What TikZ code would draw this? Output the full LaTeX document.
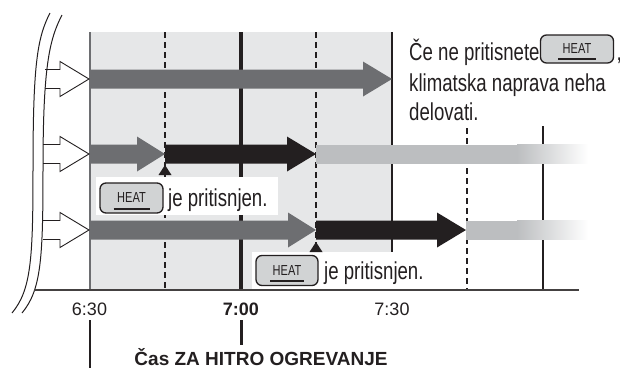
\documentclass[tikz,border=0pt]{standalone}
\usepackage{fontspec}
\setmainfont{Liberation Sans}
\newfontfamily\narrowfont[FakeStretch=0.76]{Liberation Sans}
\definecolor{regiongray}{HTML}{E6E7E8}
\definecolor{darkbar}{HTML}{6D6E71}
\definecolor{blackbar}{HTML}{231F20}
\definecolor{lightbar}{HTML}{BCBEC0}
\definecolor{btnfill}{HTML}{D1D3D4}
\newcommand\blockarr[5]{\fill[#1] (#2,{#5-9.5}) -- (#3,{#5-9.5}) -- (#3,{#5-17.5}) -- (#4,#5) -- (#3,{#5+17.5}) -- (#3,{#5+9.5}) -- (#2,{#5+9.5}) -- cycle;}
\newcommand\openarr[2]{\draw[openarrow] (#1,{#2-9.5}) -- (60,{#2-9.5}) -- (60,{#2-17.5}) -- (89,#2) -- (60,{#2+17.5}) -- (60,{#2+9.5}) -- (#1,{#2+9.5});}
\tikzset{
  dashline/.style={line width=1.1pt, dash pattern=on 6pt off 4pt, draw=blackbar},
  solidline/.style={line width=1.1pt, draw=blackbar},
  heatbtn/.style={draw=blackbar, line width=1.3pt, fill=btnfill, rounded corners=6pt,
    minimum height=30pt, inner sep=0pt, text depth=0pt,
    font=\narrowfont\fontsize{14.5}{15}\selectfont, text=blackbar},
  btnline/.style={line width=2pt, draw=blackbar},
  bodytext/.style={font=\narrowfont\fontsize{24.5}{30}\selectfont, text=blackbar, inner sep=0pt, anchor=base west},
  timelabel/.style={font=\fontsize{18}{20}\selectfont, text=blackbar, inner sep=0pt, anchor=base},
  openarrow/.style={draw=blackbar, line width=0.9pt, fill=white, line join=miter},
  breakline/.style={draw=blackbar, line width=1pt},
}
\begin{document}
\begin{tikzpicture}[x=1pt,y=-1pt]
\useasboundingbox (0,0) rectangle (624,368);
% shaded period
\fill[regiongray] (90,32) rectangle (392,290);
\draw[line width=1.2pt, draw=darkbar] (90,32) -- (90,290);
\draw[solidline] (392,32) -- (392,290);
\draw[dashline] (165,32) -- (165,290);
\draw[dashline] (316,32) -- (316,290);
\draw[line width=3.5pt, draw=blackbar] (241,32) -- (241,290);
\draw[dashline] (467,128) -- (467,290);
\draw[solidline] (543,126) -- (543,290);
% white label boxes
\fill[white] (96,177) rectangle (278,215);
\fill[white] (252,252) rectangle (430,289);
% row 1
\blockarr{darkbar}{90}{363}{392}{79}
% row 2
\blockarr{darkbar}{90}{137}{165}{154}
\blockarr{blackbar}{165}{287}{316}{154}
\fill[lightbar] (316,144.5) rectangle (517.5,163.5);
\shade[left color=lightbar, right color=white] (517,144.5) rectangle (588,163.5);
% row 3
\blockarr{darkbar}{90}{288}{316}{230}
\blockarr{blackbar}{316}{437}{466}{230}
\fill[lightbar] (466,220.5) rectangle (517.5,239.5);
\shade[left color=lightbar, right color=white] (517,220.5) rectangle (588,239.5);
% markers
\fill[blackbar] (158.5,175) -- (165,165) -- (171.5,175) -- cycle;
\fill[blackbar] (309.5,252) -- (316,242) -- (322.5,252) -- cycle;
% buttons and labels
\node[heatbtn, minimum width=63pt] (btnA) at (131.5,198) {HEAT};
\draw[btnline] ([shift={(-18,10.5)}]btnA.center) -- ([shift={(18,10.5)}]btnA.center);
\node[bodytext] (txtA) at (168,206) {je pritisnjen.};
\node[heatbtn, minimum width=62pt] (btnB) at (287,270.5) {HEAT};
\draw[btnline] ([shift={(-17,10.5)}]btnB.center) -- ([shift={(17,10.5)}]btnB.center);
\node[bodytext] (txtB) at (324,279) {je pritisnjen.};
\node[bodytext] (noteA) at (409,60) {Če ne pritisnete};
\node[heatbtn, minimum width=73pt, minimum height=28pt] (btnC) at (577,49) {HEAT};
\draw[btnline] ([shift={(-19,10)}]btnC.center) -- ([shift={(19,10)}]btnC.center);
\node[bodytext] (comma) at (616.5,60) {,};
\node[bodytext] (noteB) at (409,91) {klimatska naprava neha};
\node[bodytext] (noteC) at (409,120.5) {delovati.};
% open arrows
\openarr{45}{79}
\openarr{43}{154}
\openarr{43}{230}
% break lines
\draw[breakline] (50,13) .. controls (37,38) and (33,66) .. (33,170) .. controls (33,260) and (31,290) .. (12,313);
\draw[breakline] (62,15) .. controls (49,40) and (43,68) .. (43,170) .. controls (43,260) and (41,290) .. (22,313);
% axis
\draw[line width=1.2pt, draw=blackbar!85] (34,290) -- (579,290);
\node[timelabel] (t630) at (89.5,315) {6:30};
\node[timelabel, font=\bfseries\fontsize{18}{20}\selectfont] (t700) at (241,315) {7:00};
\node[timelabel] (t730) at (392,315) {7:30};
\draw[line width=2pt, draw=blackbar] (90,320) -- (90,368);
\draw[line width=3pt, draw=blackbar] (241,320) -- (241,345);
\node[font=\bfseries\fontsize{19}{20}\selectfont, text=blackbar, anchor=base, inner sep=0pt] (title) at (261,365) {Čas ZA HITRO OGREVANJE};
\end{tikzpicture}
\end{document}
